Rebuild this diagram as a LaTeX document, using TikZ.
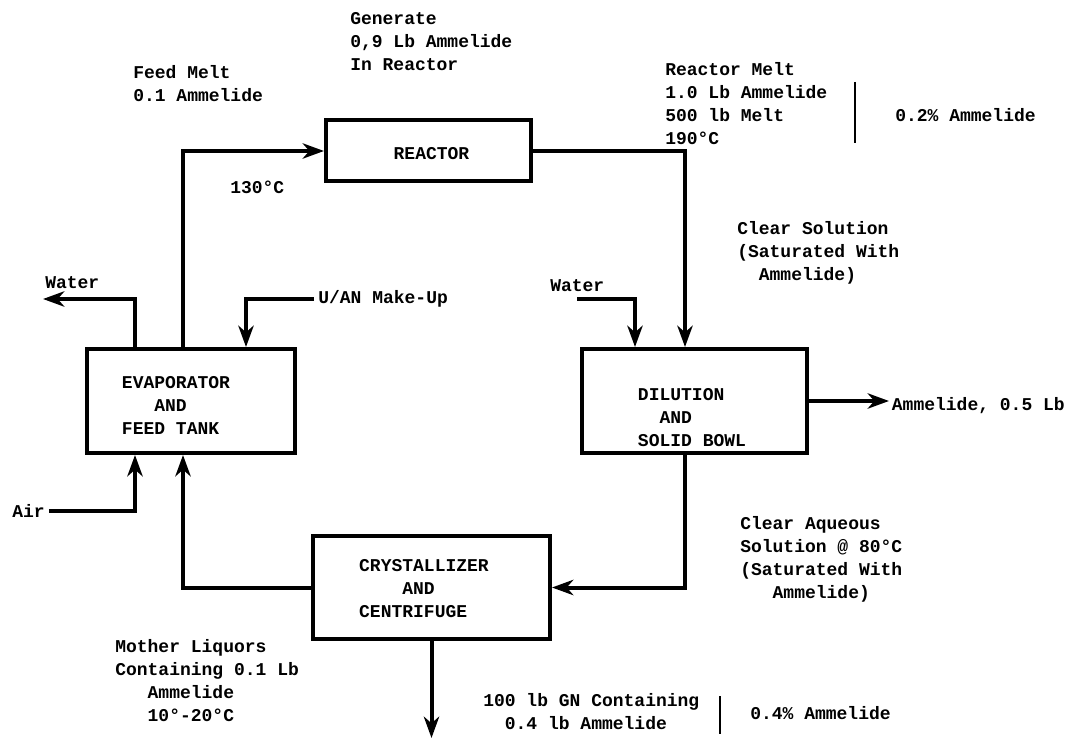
\documentclass[tikz,border=0pt]{standalone}
\usepackage{fontspec}
\setmainfont{Liberation Mono}
\usetikzlibrary{arrows.meta,calc}
\begin{document}
\begin{tikzpicture}[x=0.75pt,y=-0.75pt,
  box/.style={draw, line width=3pt, inner sep=0pt},
  flow/.style={line width=3pt},
  arr/.style={flow, -{Stealth[length=16pt,width=11.5pt,inset=5pt]}},
  txt/.style={font=\fontsize{13.5}{17.25}\selectfont\bfseries, inner sep=0pt, align=left},
  brace/.style={line width=1.2pt}]
\useasboundingbox (0,0) rectangle (1075,738);
\fill[white] (0,0) rectangle (1075,738);

% process boxes
\node[box, minimum width=156pt, minimum height=78pt] (evap) at (191,401) {};
\node[box, minimum width=153.75pt, minimum height=45.75pt] (reac) at (428.5,151) {};
\node[box, minimum width=168.75pt, minimum height=78pt] (dil) at (694.5,401) {};
\node[box, minimum width=177.75pt, minimum height=77.25pt] (cry) at (431.5,587.5) {};

% box labels
\node[txt] (reaclbl) at ($(reac.center)+(3,3)$) {REACTOR};
\node[txt] (evaplbl) at ($(evap.center)+(-15,4)$) {EVAPORATOR\\\hphantom{EVA}AND\\FEED TANK};
\node[txt] (dillbl) at ($(dil.center)+(-2.5,16.5)$) {DILUTION\\\hphantom{DI}AND\\SOLID BOWL};
\node[txt] (crylbl) at ($(cry.center)+(-7.5,1.5)$) {CRYSTALLIZER\\\hphantom{CRYS}AND\\CENTRIFUGE};

% annotations
\node[txt, anchor=north west] (gen) at (350,12) {Generate\\0,9 Lb Ammelide\\In Reactor};
\node[txt, anchor=north west] (feed) at (133,65) {Feed Melt\\0.1 Ammelide};
\node[txt, anchor=west] (t130) at (230,187) {130°C};
\node[txt, anchor=north west] (rmelt) at (665,62) {Reactor Melt\\1.0 Lb Ammelide\\500 lb Melt\\190°C};
\node[txt, anchor=west] (pct1) at (895,115) {0.2\% Ammelide};
\node[txt, anchor=north west] (clear) at (737,221) {Clear Solution\\(Saturated With\\\hphantom{xx}Ammelide)};
\node[txt, anchor=west] (w1) at (45,283) {Water};
\node[txt, anchor=west, inner xsep=3pt] (uan) at (314,299) {U/AN Make-Up};
\node[txt, anchor=west] (w2) at (550,286) {Water};
\node[txt, anchor=west, inner xsep=3pt] (air) at (8,511) {Air};
\node[txt, anchor=west, inner xsep=2pt] (amm) at (889,406) {Ammelide, 0.5 Lb};
\node[txt, anchor=north west] (aq) at (740,516) {Clear Aqueous\\Solution @ 80°C\\(Saturated With\\\hphantom{xxx}Ammelide)};
\node[txt, anchor=north west] (mother) at (115,639) {Mother Liquors\\Containing 0.1 Lb\\\hphantom{xxx}Ammelide\\\hphantom{xxx}10°-20°C};
\node[txt, anchor=north west] (gn) at (483,693) {100 lb GN Containing\\\hphantom{xx}0.4 lb Ammelide};
\node[txt, anchor=west] (pct2) at (750,713) {0.4\% Ammelide};

% free ends
\coordinate (wout) at (43,299);
\coordinate (win) at (577,299);
\coordinate (prod) at (431.5,738);

% connectors
\draw[arr] ($(evap.north west)+(98,0)$) |- (reac.west);
\draw[arr] (reac.east) -| ($(dil.north west)+(105,0)$);
\draw[arr] ($(evap.north west)+(50,0)$) |- (wout);
\draw[arr] (uan.west) -| ($(evap.north west)+(161,0)$);
\draw[arr] (air.east) -| ($(evap.south west)+(50,0)$);
\draw[arr] (win) -| ($(dil.north west)+(55,0)$);
\draw[arr] (dil.east) -- (dil.east -| amm.west);
\draw[arr] ($(dil.south west)+(105,0)$) |- (cry.east);
\draw[arr] (cry.west) -| ($(evap.south west)+(98,0)$);
\draw[arr] (cry.south) -- (cry.south |- prod);

% brackets
\draw[brace] (855,82) -- (855,143);
\draw[brace] (720,696) -- (720,734);
\end{tikzpicture}
\end{document}
